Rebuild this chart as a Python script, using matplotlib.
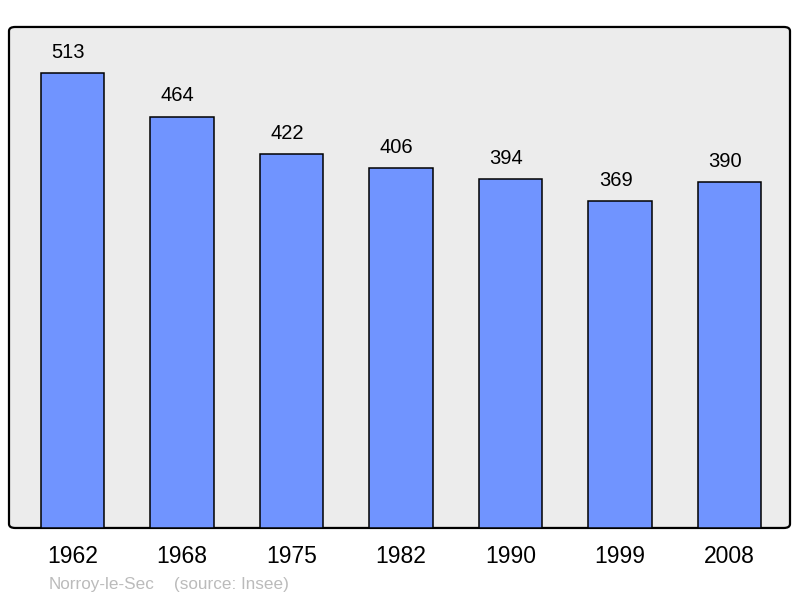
import matplotlib
matplotlib.use("Agg")
import matplotlib.pyplot as plt
from matplotlib.patches import FancyBboxPatch

years = ["1962", "1968", "1975", "1982", "1990", "1999", "2008"]
population = [513, 464, 422, 406, 394, 369, 390]
town = "Norroy-le-Sec"
source = "(source: Insee)"

plt.rcParams["font.family"] = ["Liberation Sans", "DejaVu Sans"]

fig = plt.figure(figsize=(8, 5.98), dpi=100)
ax = fig.add_axes([0.01125, 0.1171, 0.97625, 0.8378])

# grey rounded panel behind the bars
panel = FancyBboxPatch((0, 0), 1, 1, boxstyle="round,pad=0,rounding_size=0.008",
	transform=ax.transAxes, facecolor="#ececec", edgecolor="black",
	linewidth=1.6, zorder=0, clip_on=False)
ax.add_patch(panel)
ax.set_facecolor("none")
for s in ax.spines.values():
    s.set_visible(False)

x = list(range(len(years)))
ax.bar(x, population, width=0.58, color="#7094ff",
	edgecolor="black", linewidth=1.1, zorder=2)

for xi, val in zip(x, population):
    ax.annotate(str(val), (xi, val), xytext=(-3, 14.8), textcoords="offset points",
    	ha="center", va="center", fontsize=14.5, color="black")

ax.set_xlim(-0.58, 6.553)
ax.set_ylim(0, 565)
ax.set_yticks([])
ax.set_xticks(x)
ax.set_xticklabels(years, fontsize=16.5)
ax.tick_params(axis="x", length=0, pad=12)

fig.text(49 / 800, 1 - 585 / 598, town, color="#bbbbbb", fontsize=12.3,
	ha="left", va="center")
fig.text(174 / 800, 1 - 585 / 598, source, color="#bbbbbb", fontsize=12.3,
	ha="left", va="center")

fig.savefig("out.png", dpi=100)
